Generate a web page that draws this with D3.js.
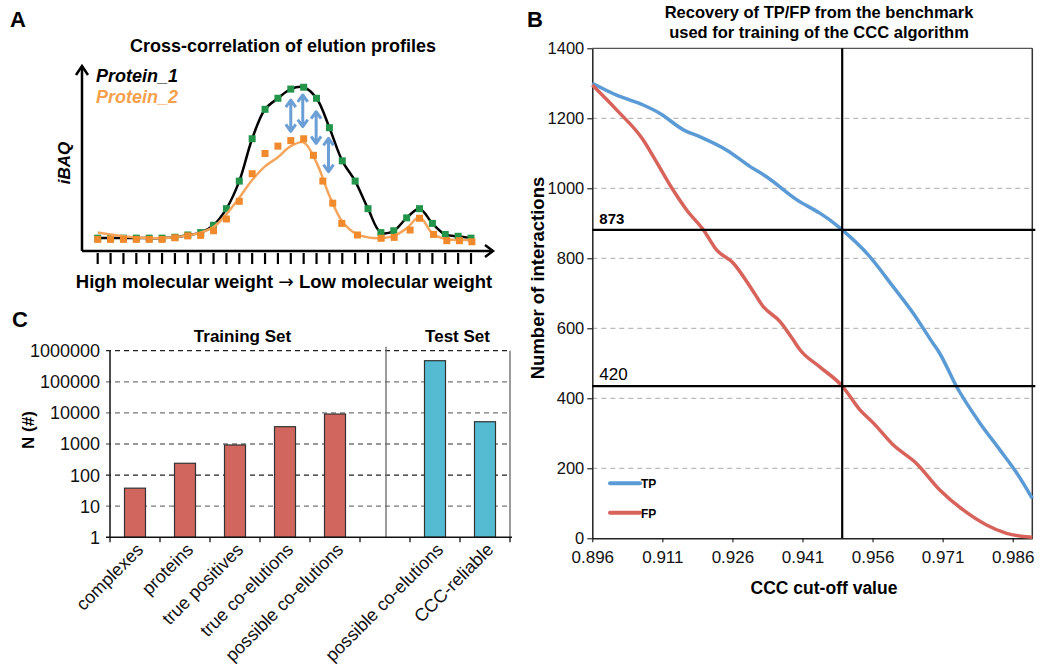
<!DOCTYPE html>
<html>
<head>
<meta charset="utf-8">
<title>CCC benchmark figure</title>
<script src="https://cdn.jsdelivr.net/npm/d3@7"></script>
<style>
  body { margin: 0; background: #fff; }
  svg { font-family: "Liberation Sans", Arial, sans-serif; }
  .panel { font-size: 22px; font-weight: bold; }
</style>
</head>
<body>
<svg id="fig" width="1062" height="668"></svg>
<script>
// ---------- data ----------
// panel A: elution profiles, x = fraction number, y = iBAQ (arbitrary units)
var fractionIdx = [0,1,2,3,4,5,6,7,8,9,10,11,12,13,14,15,16,17,18,19,20,21,22,23,24,25,26,27,28,29];
var p1Values = [7,7,7,7,7,7,7.5,8.7,10,14,23,38,61,77,83,88,89,83,67,49,38,23,10,11,18,23,15,9,8,7];
var p2X = [0,1,2,3,4,5,6,7,8,9,10,11,12,13,14,15,16,16.76,17.49,18.26,18.96,20.18,22.02,23.03,24.27,25,26.09,27.12,28.1,29.07];
var p2Values = [6.3,6.3,6.3,6.3,6.3,6.3,7.2,8.2,8.5,11,17.4,27,42,53,57,60,61,52,38,26,15,8.7,6.9,7.4,11.4,17.8,9,5.6,5.6,5];
var p2Fit = [10,9,8,7.3,7,7,7.5,8.5,10,13,20,29,38.6,46,51,57,59,48,30,16,9.6,7.4,7,8.2,12.3,18.3,9.6,6.5,6,6];
var arrowX = [15, 15.93, 16.97, 17.93];
var arrowTop = [82, 84.8, 75.7, 61.2];
var arrowBot = [65, 67.6, 58.5, 43.1];

// panel B: TP / FP against CCC cut-off
var tpCut = [0.8960,0.9012,0.9069,0.9105,0.9155,0.9191,0.9248,0.9298,0.9333,0.9398,0.9447,0.9469,0.9495,0.9554,0.9604,0.9647,0.9687,0.9704,0.9740,0.9790,0.9833,0.9869,0.9902];
var tpCount = [1300,1266,1238,1214,1167,1147,1109,1062,1033,967,929,909,881,805,719,643,562,528,433,329,252,186,114];
var fpCut = [0.8960,0.9012,0.9069,0.9091,0.9133,0.9162,0.9198,0.9226,0.9262,0.9298,0.9326,0.9362,0.9390,0.9405,0.9447,0.9495,0.9533,0.9562,0.9604,0.9654,0.9704,0.9754,0.9804,0.9847,0.9902];
var fpCount = [1295,1224,1138,1090,995,938,881,824,786,719,662,619,567,538,490,435,367,329,267,214,138,81,38,14,3];
var bTicks = [0.896,0.911,0.926,0.941,0.956,0.971,0.986];
var bYTicks = [0,200,400,600,800,1000,1200,1400];
var cutoff = 0.9495;
var markLevels = [881, 435];
var markLabels = ["873", "420"];

// panel C: counts per set (log scale)
var cLabels = ["complexes","proteins","true positives","true co-elutions","possible co-elutions","","possible co-elutions","CCC-reliable"];
var cValues = [38, 240, 930, 3600, 9200, null, 477000, 5200];
var cSet = ["train","train","train","train","train",null,"test","test"];
var cYTicks = [1,10,100,1000,10000,100000,1000000];

// ---------- drawing ----------
var svg = d3.select('#fig');

// ===== Panel A =====
var gA = svg.append('g');
var xA = d3.scaleLinear().domain([0, 29]).range([97.7, 471]);
var yA = d3.scaleLinear().domain([0, 100]).range([251, 67]);

gA.append('text').attr('class','panel').attr('x',10).attr('y',27).text('A');
gA.append('text').attr('x',283).attr('y',52).attr('text-anchor','middle')
  .style('font-size','18px').style('font-weight','bold')
  .text('Cross-correlation of elution profiles');

// axes with open arrow heads
var ax0 = 82, ay0 = yA(0);
gA.append('path')
  .attr('d', 'M' + ax0 + ',' + ay0 + 'V' + (yA(100) - 1) + 'M' + ax0 + ',' + ay0 + 'H493')
  .attr('fill','none').attr('stroke','#000').attr('stroke-width',2.5);
gA.append('path')
  .attr('d', 'M' + (ax0 - 6) + ',' + (yA(100) + 8) + 'L' + ax0 + ',' + (yA(100) - 1) + 'L' + (ax0 + 6) + ',' + (yA(100) + 8) +
             'M485,' + (ay0 - 6) + 'L493,' + ay0 + 'L485,' + (ay0 + 6))
  .attr('fill','none').attr('stroke','#000').attr('stroke-width',2.5);

gA.selectAll('.tickA').data(fractionIdx).enter().append('line')
  .attr('x1', function(d){ return xA(d); }).attr('x2', function(d){ return xA(d); })
  .attr('y1', ay0 + 2).attr('y2', ay0 + 13)
  .attr('stroke','#000').attr('stroke-width',2.2);

var lineP1 = d3.line()
  .x(function(d, i){ return xA(fractionIdx[i]); })
  .y(function(d){ return yA(d); })
  .curve(d3.curveCatmullRom.alpha(0.5));
gA.append('path').attr('d', lineP1(p1Values))
  .attr('fill','none').attr('stroke','#000').attr('stroke-width',2.5);

gA.selectAll('.sqG').data(p1Values).enter().append('rect')
  .attr('x', function(d, i){ return xA(fractionIdx[i]) - 3.5; })
  .attr('y', function(d){ return yA(d) - 3.5; })
  .attr('width',7).attr('height',7).attr('fill','#23954a');

gA.append('path').attr('d', lineP1(p2Fit))
  .attr('fill','none').attr('stroke','#f5a55c').attr('stroke-width',2.5);

gA.selectAll('.sqO').data(p2Values).enter().append('rect')
  .attr('x', function(d, i){ return xA(p2X[i]) - 3.5; })
  .attr('y', function(d){ return yA(d) - 3.5; })
  .attr('width',7).attr('height',7).attr('fill','#f08a2c');

// double arrows between the two profiles
arrowX.forEach(function(xv, i){
  var x = xA(xv), t = yA(arrowTop[i]), b = yA(arrowBot[i]);
  gA.append('path')
    .attr('d', 'M' + x + ',' + t + 'V' + b +
      'M' + (x - 5) + ',' + (t + 7) + 'L' + x + ',' + t + 'L' + (x + 5) + ',' + (t + 7) +
      'M' + (x - 5) + ',' + (b - 7) + 'L' + x + ',' + b + 'L' + (x + 5) + ',' + (b - 7))
    .attr('fill','none').attr('stroke','#6b9fd6').attr('stroke-width',3)
    .attr('stroke-linejoin','round');
});

gA.append('text').attr('x',96).attr('y',82)
  .style('font-size','18px').style('font-weight','bold').style('font-style','italic')
  .attr('fill','#000').text('Protein_1');
gA.append('text').attr('x',96).attr('y',103)
  .style('font-size','18px').style('font-weight','bold').style('font-style','italic')
  .attr('fill','#f5a04c').text('Protein_2');
gA.append('text').attr('transform','translate(70,163) rotate(-90)').attr('text-anchor','middle')
  .style('font-size','17px').style('font-weight','bold').style('font-style','italic')
  .text('iBAQ');
var xlabA = gA.append('text').attr('x',284).attr('y',288).attr('text-anchor','middle')
  .style('font-size','18.5px').style('font-weight','bold');
xlabA.append('tspan').text('High molecular weight ');
xlabA.append('tspan').style('font-family','"DejaVu Sans", sans-serif').style('font-weight','normal').text('\u2192');
xlabA.append('tspan').text(' Low molecular weight');

// ===== Panel B =====
var gB = svg.append('g');
var xB = d3.scaleLinear().domain([0.896, 0.9902]).range([592.3, 1032.3]);
var yB = d3.scaleLinear().domain([0, 1400]).range([538.3, 48.3]);

gB.append('text').attr('class','panel').attr('x',527).attr('y',27).text('B');
gB.append('text').attr('x',819).attr('y',18).attr('text-anchor','middle')
  .style('font-size','16.5px').style('font-weight','bold')
  .text('Recovery of TP/FP from the benchmark');
gB.append('text').attr('x',819).attr('y',38).attr('text-anchor','middle')
  .style('font-size','16.5px').style('font-weight','bold')
  .text('used for training of the CCC algorithm');

gB.selectAll('.gridB').data(bYTicks.slice(1, -1)).enter().append('line')
  .attr('x1', xB.range()[0]).attr('x2', xB.range()[1])
  .attr('y1', function(d){ return yB(d); }).attr('y2', function(d){ return yB(d); })
  .attr('stroke','#bbb').attr('stroke-width',1.2).attr('stroke-dasharray','5,4');

gB.append('line').attr('x1', xB.range()[0]).attr('x2', xB.range()[1])
  .attr('y1', yB(1400)).attr('y2', yB(1400)).attr('stroke','#555').attr('stroke-width',1.2);
gB.append('line').attr('x1', xB.range()[1]).attr('x2', xB.range()[1])
  .attr('y1', yB(1400)).attr('y2', yB(0)).attr('stroke','#333').attr('stroke-width',1.5);

var axLB = gB.append('g').attr('transform','translate(' + xB.range()[0] + ',0)')
  .call(d3.axisLeft(yB).tickValues(bYTicks).tickFormat(d3.format('d'))
    .tickSize(5).tickSizeOuter(0).tickPadding(3));
axLB.selectAll('text').style('font-size','16.5px').attr('fill','#111');
axLB.select('.domain').attr('stroke','#222').attr('stroke-width',1.5);

var axBB = gB.append('g').attr('transform','translate(0,' + yB(0) + ')')
  .call(d3.axisBottom(xB).tickValues(bTicks).tickFormat(d3.format('.3f')).tickSize(4).tickSizeOuter(0).tickPadding(9));
axBB.selectAll('text').style('font-size','17px').attr('fill','#111');
axBB.select('.domain').attr('stroke','#222').attr('stroke-width',1.5);

var lineB = d3.line().curve(d3.curveMonotoneX);
gB.append('path')
  .attr('d', lineB(tpCut.map(function(c, i){ return [xB(c), yB(tpCount[i])]; })))
  .attr('fill','none').attr('stroke','#5b9bd5').attr('stroke-width',3.5);
gB.append('path')
  .attr('d', lineB(fpCut.map(function(c, i){ return [xB(c), yB(fpCount[i])]; })))
  .attr('fill','none').attr('stroke','#d7635b').attr('stroke-width',3.5);

// cut-off marks
gB.append('line').attr('x1', xB(cutoff)).attr('x2', xB(cutoff))
  .attr('y1', yB(1400)).attr('y2', yB(0)).attr('stroke','#000').attr('stroke-width',2.2);
gB.selectAll('.markB').data(markLevels).enter().append('line')
  .attr('x1', xB.range()[0]).attr('x2', xB.range()[1] + 3)
  .attr('y1', function(d){ return yB(d); }).attr('y2', function(d){ return yB(d); })
  .attr('stroke','#000').attr('stroke-width',2.2);
gB.selectAll('.markLbl').data(markLevels).enter().append('text')
  .attr('x', xB.range()[0] + 7)
  .attr('y', function(d){ return yB(d) - 6; })
  .style('font-size', function(d, i){ return i === 0 ? '15px' : '17px'; })
  .style('font-weight', function(d, i){ return i === 0 ? 'bold' : 'normal'; })
  .text(function(d, i){ return markLabels[i]; });

// legend
var legB = [{name:'TP', color:'#5b9bd5'}, {name:'FP', color:'#d7635b'}];
var lg = gB.selectAll('.legB').data(legB).enter().append('g')
  .attr('transform', function(d, i){ return 'translate(610,' + (483.3 + i * 29.4) + ')'; });
lg.append('line').attr('x1',0).attr('x2',30).attr('y1',0).attr('y2',0)
  .attr('stroke', function(d){ return d.color; }).attr('stroke-width',4).attr('stroke-linecap','round');
lg.append('text').attr('x',31).attr('y',5).style('font-size','12px').style('font-weight','bold')
  .text(function(d){ return d.name; });

gB.append('text').attr('x',824).attr('y',594).attr('text-anchor','middle')
  .style('font-size','17.5px').style('font-weight','bold').text('CCC cut-off value');
gB.append('text').attr('transform','translate(544,278) rotate(-90)').attr('text-anchor','middle')
  .style('font-size','18.5px').style('font-weight','bold').text('Number of interactions');

// ===== Panel C =====
var gC = svg.append('g');
var xC = d3.scaleBand().domain(cLabels.map(function(d, i){ return i; }))
  .range([110, 510]).paddingInner(0.58).paddingOuter(0.29);
var yC = d3.scaleLog().domain([1, 1000000]).range([537.3, 350.7]);
var setColor = { train: '#d0665e', test: '#55bbd2' };

gC.append('text').attr('class','panel').attr('x',12).attr('y',327).text('C');

gC.selectAll('.gridC').data(cYTicks.slice(1)).enter().append('line')
  .attr('x1', 106).attr('x2', 510)
  .attr('y1', function(d){ return yC(d); }).attr('y2', function(d){ return yC(d); })
  .attr('stroke', function(d){ return (d === 100 || d === 1000000) ? '#222' : '#777'; })
  .attr('stroke-width',1.3).attr('stroke-dasharray','5,4');

gC.selectAll('.ylC').data(cYTicks).enter().append('text')
  .attr('x', 100).attr('y', function(d){ return yC(d); }).attr('dy','0.36em')
  .attr('text-anchor','end').style('font-size','18px').attr('fill','#111')
  .text(function(d){ return d; });

// separator between training and test set
var sepX = xC(5) + xC.bandwidth() / 2 + 1;
gC.append('line').attr('x1', sepX).attr('x2', sepX).attr('y1', 346.7).attr('y2', yC(1))
  .attr('stroke','#666').attr('stroke-width',1.3);
gC.append('line').attr('x1', 510).attr('x2', 510).attr('y1', yC(1000000)).attr('y2', yC(1))
  .attr('stroke','#666').attr('stroke-width',1.3);

gC.selectAll('.barC').data(cValues).enter().filter(function(d){ return d !== null; })
  .append('rect')
  .attr('x', function(d){ return xC(cValues.indexOf(d)); })
  .attr('y', function(d){ return yC(d); })
  .attr('width', xC.bandwidth())
  .attr('height', function(d){ return yC(1) - yC(d); })
  .attr('fill', function(d){ return setColor[cSet[cValues.indexOf(d)]]; })
  .attr('stroke','#333').attr('stroke-width',1.2);

// axes
gC.append('line').attr('x1',110).attr('x2',110).attr('y1', yC(1000000)).attr('y2', yC(1))
  .attr('stroke','#111').attr('stroke-width',1.5);
gC.append('line').attr('x1',106).attr('x2',512).attr('y1', yC(1)).attr('y2', yC(1))
  .attr('stroke','#111').attr('stroke-width',1.5);
gC.selectAll('.tkC').data(cLabels.map(function(d, i){ return i; }).concat([cLabels.length])).enter().append('line')
  .attr('x1', function(d){ return 110 + d * xC.step(); }).attr('x2', function(d){ return 110 + d * xC.step(); })
  .attr('y1', yC(1)).attr('y2', yC(1) + 5).attr('stroke','#111').attr('stroke-width',1.3);

gC.selectAll('.xlC').data(cLabels).enter().append('text')
  .attr('transform', function(d, i){
    return 'translate(' + (xC(i) + xC.bandwidth() / 2 + 5) + ',' + (yC(1) + 9) + ') rotate(-45)';
  })
  .attr('text-anchor','end').attr('dy','0.35em').style('font-size','18px').attr('fill','#111')
  .text(function(d){ return d; });

gC.append('text').attr('x',242.5).attr('y',341.7).attr('text-anchor','middle')
  .style('font-size','17px').style('font-weight','bold').text('Training Set');
gC.append('text').attr('x',457.5).attr('y',341.7).attr('text-anchor','middle')
  .style('font-size','17px').style('font-weight','bold').text('Test Set');
gC.append('text').attr('transform','translate(34,430) rotate(-90)').attr('text-anchor','middle')
  .style('font-size','17px').style('font-weight','bold').text('N (#)');
</script>
</body>
</html>
